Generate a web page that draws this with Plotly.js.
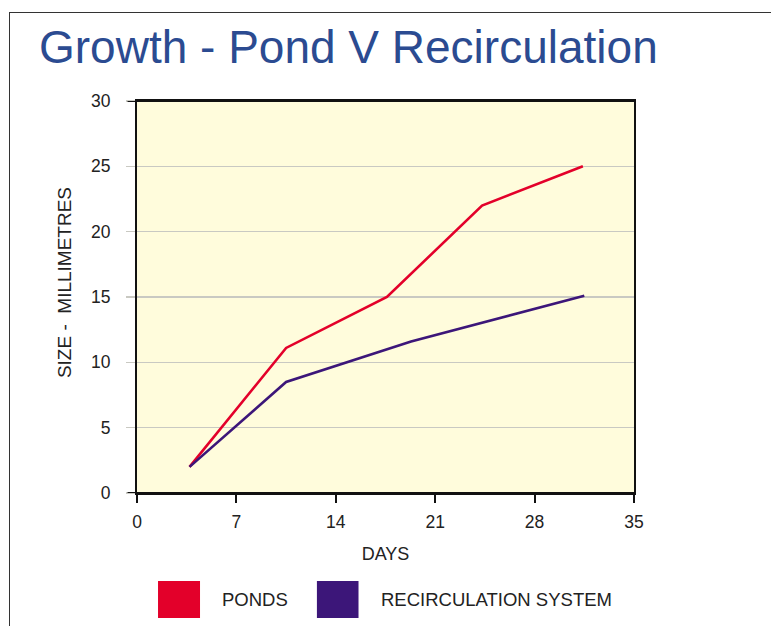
<!DOCTYPE html>
<html>
<head>
<meta charset="utf-8">
<script src="https://cdn.plot.ly/plotly-3.0.1.min.js"></script>
<style>
html,body{margin:0;padding:0;background:#fff;}
#wrap{position:relative;width:771px;height:626px;}
#chart{position:absolute;left:0;top:0;width:771px;height:626px;}
#frame{position:absolute;left:9px;top:12px;width:762px;height:614px;border-left:1.5px solid #333;border-top:1.5px solid #333;pointer-events:none;}
</style>
</head>
<body>
<div id="wrap"><div id="chart"></div><div id="frame"></div></div>
<script>
var titleText = "Growth - Pond V Recirculation";
var xTitle = "DAYS";
var yTitle = "SIZE -  MILLIMETRES";
var seriesNames = ["PONDS", "RECIRCULATION SYSTEM"];
var seriesColors = ["#e3002a", "#3c1679"];
var pondDays = [3.7, 10.5, 17.6, 24.3, 31.4];
var pondSize = [2, 11.1, 15, 22, 25];
var recircDays = [3.7, 10.5, 19.3, 31.5];
var recircSize = [2, 8.5, 11.6, 15.1];
var xTicks = [0, 7, 14, 21, 28, 35];
var yTicks = [0, 5, 10, 15, 20, 25, 30];

var FONT = "Liberation Sans, Arial, sans-serif";
var traces = [
  {x: pondDays, y: pondSize, type: "scatter", mode: "lines", name: seriesNames[0],
   line: {color: seriesColors[0], width: 2.6}},
  {x: recircDays, y: recircSize, type: "scatter", mode: "lines", name: seriesNames[1],
   line: {color: seriesColors[1], width: 2.6}}
];

// custom legend (squares + labels) in paper coords
var legBoxes = [[0.0423, 0.1268], [0.362, 0.4457]];
var legText = [0.1660, 0.4869];
var shapes = [
  {type: "line", xref: "paper", yref: "y", x0: -0.019, x1: 1, y0: 30, y1: 30, line: {color: "#111", width: 2}},
  {type: "line", xref: "paper", yref: "y", x0: -0.019, x1: 1, y0: 0, y1: 0, line: {color: "#111", width: 2}}
];
var annotations = [
  {xref: "paper", yref: "paper", x: -0.1469, y: 0.538, xanchor: "center", yanchor: "middle",
   text: yTitle, textangle: -90, showarrow: false, font: {family: FONT, size: 19, color: "#222"}}
];
for (var i = 0; i < 2; i++) {
  shapes.push({type: "rect", xref: "paper", yref: "paper", x0: legBoxes[i][0], x1: legBoxes[i][1],
    y0: -0.319, y1: -0.2245, fillcolor: seriesColors[i], line: {width: 0}});
  annotations.push({xref: "paper", yref: "paper", x: legText[i], y: -0.2705, xanchor: "left", yanchor: "middle",
    text: seriesNames[i], showarrow: false, font: {family: FONT, size: 18.5, color: "#222"}});
}

var layout = {
  width: 771, height: 626,
  margin: {l: 137, r: 137, t: 101, b: 133},
  paper_bgcolor: "#ffffff",
  plot_bgcolor: "#fffcdc",
  showlegend: false,
  title: {text: titleText, x: 39/771, xanchor: "left", y: 1 - 47/626, yanchor: "middle",
          font: {family: FONT, size: 46, color: "#2b4b91"}},
  xaxis: {range: [0, 35], tickvals: xTicks, ticktext: xTicks.map(String),
          showgrid: false, zeroline: false, showline: true, linecolor: "#111", linewidth: 2, mirror: true,
          ticks: "outside", ticklen: 8, tickwidth: 2, tickcolor: "#111", ticklabelstandoff: 4,
          tickfont: {family: FONT, size: 17.5, color: "#222"},
          title: {text: xTitle, standoff: 16, font: {family: FONT, size: 18, color: "#222"}}},
  yaxis: {range: [0, 30], tickvals: yTicks, ticktext: yTicks.map(String),
          showgrid: true, gridcolor: "#c9c9c2", gridwidth: 1.5, zeroline: false,
          showline: true, linecolor: "#111", linewidth: 2, mirror: true,
          ticks: "outside", ticklen: 9, tickwidth: 1.5, tickcolor: "#c9c9c2", ticklabelstandoff: 12,
          tickfont: {family: FONT, size: 17.5, color: "#222"}},
  shapes: shapes,
  annotations: annotations
};
Plotly.newPlot("chart", traces, layout, {displayModeBar: false, staticPlot: true});
</script>
</body>
</html>
